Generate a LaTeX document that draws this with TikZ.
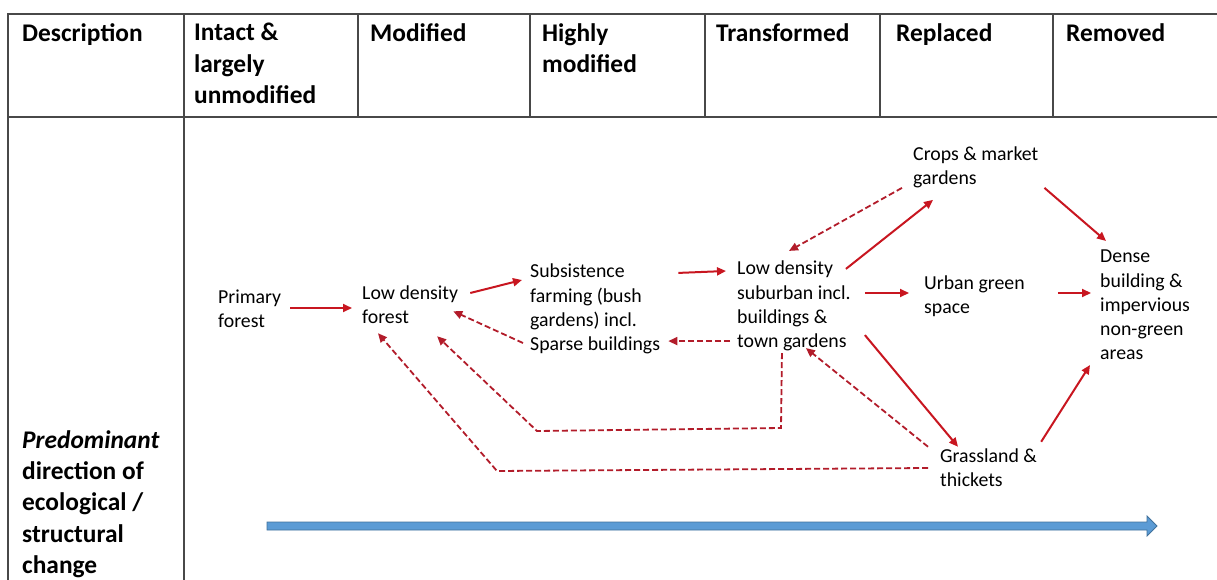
\documentclass[tikz,border=0pt]{standalone}
\usepackage{fontspec}
\setmainfont{Carlito}
\usetikzlibrary{arrows.meta,calc}
\definecolor{flowred}{RGB}{200,22,32}
\definecolor{backred}{RGB}{178,28,42}
\definecolor{dirblue}{RGB}{91,155,213}
\definecolor{dirline}{RGB}{65,113,156}
\definecolor{gridgray}{RGB}{72,72,72}
\newcommand{\hdrfont}{\fontsize{25.4}{31.3}\selectfont\bfseries}
\newcommand{\bodyfont}{\fontsize{19.8}{24.2}\selectfont}
\tikzset{hdr/.style={anchor=north west,inner sep=0pt,align=left,font=\hdrfont}}
\tikzset{state/.style={anchor=west,inner sep=0pt,align=left,font=\bodyfont}}
\tikzset{flow/.style={draw=flowred,line width=2pt,-{Triangle[length=9pt,width=8pt]}}}
\tikzset{back/.style={draw=backred,line width=1.8pt,dash pattern=on 6pt off 3pt,-{Triangle[length=9pt,width=8pt]}}}
\tikzset{gridline/.style={draw=gridgray,line width=1.5pt}}
\begin{document}
\begin{tikzpicture}[x=1pt,y=-1pt]
  \useasboundingbox (0,0) rectangle (1217,580);
  % table
  \draw[gridline] (8,580) -- (8,14) -- (1217,14);
  \draw[gridline,line width=2.6pt] (8,117) -- (1217,117);
  \draw[gridline] (184,14) -- (184,580);
  \foreach \cx in {358,530,705,880,1053}
    \draw[gridline] (\cx,14) -- (\cx,117);
  % header
  \node[hdr] (hdesc) at (22,23) {Description};
  \node[hdr] (hint) at (194,23) {Intact \&\\largely\\unmodified};
  \node[hdr] (hmod) at (370,23) {Modified};
  \node[hdr] (hhigh) at (542,23) {Highly\\modified};
  \node[hdr] (htrans) at (716,23) {Transformed};
  \node[hdr] (hrepl) at (896,23) {Replaced};
  \node[hdr] (hrem) at (1066,23) {Removed};
  \node[hdr,anchor=west] (hdir) at (22,504) {\textit{Predominant}\\direction of\\ecological /\\structural\\change};
  % states
  \node[state] (prim) at (218,309) {Primary\\forest};
  \node[state] (ldf) at (362,305) {Low density\\forest};
  \node[state] (sub) at (530,309) {Subsistence\\farming (bush\\gardens) incl.\\Sparse buildings};
  \node[state] (subu) at (737,306) {Low density\\suburban incl.\\buildings \&\\town gardens};
  \node[state] (crop) at (913,167) {Crops \& market\\gardens};
  \node[state] (urb) at (924,296) {Urban green\\space};
  \node[state] (dense) at (1100,305) {Dense\\building \&\\impervious\\non-green\\areas};
  \node[state] (grass) at (940,468) {Grassland \&\\thickets};
  % forward changes
  \draw[flow] ($(prim.east)+(9,-1)$) -- ($(ldf.west)+(-10,3)$);
  \draw[flow] ($(ldf.east)+(12,-12)$) -- ($(sub.west)+(-8,-29)$);
  \draw[flow] ($(sub.north east)+(18,9)$) -- ($(subu.west)+(-11,-35)$);
  \draw[flow] ($(subu.north east)+(-5,8)$) -- ($(crop.south west)+(20,12)$);
  \draw[flow] ($(subu.east)+(14,-13)$) -- ($(urb.west)+(-15,-3)$);
  \draw[flow] ($(urb.east)+(33,-3)$) -- ($(dense.west)+(-9,-12)$);
  \draw[flow] ($(crop.south east)+(6,0)$) -- ($(dense.north west)+(6,-9)$);
  \draw[flow] ($(subu.south east)+(14,-16)$) -- ($(grass.north west)+(18,-2)$);
  \draw[flow] ($(grass.north east)+(4,-7)$) -- ($(dense.south west)+(-10,5)$);
  % reverse changes
  \draw[back] ($(sub.west)+(-7,34)$) -- ($(ldf.south east)+(-5,-13)$);
  \draw[back] ($(subu.south west)+(-7,-10)$) -- ($(sub.south east)+(8,-13)$);
  \draw[back] ($(crop.south west)+(-11,0)$) -- ($(subu.north west)+(52,-10)$);
  \draw[back] ($(grass.north west)+(-12,-2)$) -- ($(subu.south)+(12,-3)$);
  \coordinate (ebend) at (781,428);
  \coordinate (ecorner) at (537,431);
  \draw[back] ($(subu.south)+(-12,2)$) -- (ebend) -- (ecorner) -- ($(ldf.south)+(27,12)$);
  \coordinate (fcorner) at (497,471);
  \draw[back] ($(grass.west)+(-12,0)$) -- (fcorner) -- ($(ldf.south west)+(16,9)$);
  % predominant direction
  \filldraw[fill=dirblue,draw=dirline,line width=0.8pt] (267,522) -- (1147,522) -- (1147,516)
    -- (1157,526) -- (1147,536) -- (1147,530) -- (267,530) -- cycle;
\end{tikzpicture}
\end{document}
